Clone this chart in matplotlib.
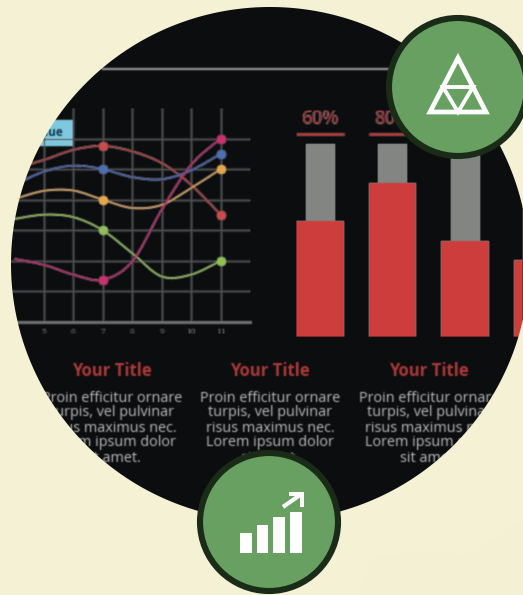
import numpy as np
import matplotlib
matplotlib.use('Agg')
import matplotlib.pyplot as plt
from matplotlib.patches import Circle, Ellipse, PathPatch, Polygon, Rectangle
from matplotlib.path import Path

W, H = 523, 595

# line chart
months = [4, 5, 6, 7, 8, 9, 10, 11]
red_line = [5.03, 5.30, 5.63, 5.76, 5.58, 5.20, 4.49, 3.51]
blue_line = [4.49, 4.92, 5.11, 5.00, 4.74, 4.67, 4.96, 5.50]
orange_line = [4.02, 4.29, 4.30, 4.00, 3.73, 3.83, 4.38, 5.00]
green_line = [3.37, 3.51, 3.43, 3.00, 2.25, 1.49, 1.55, 2.00]
pink_line = [2.06, 1.87, 1.55, 1.38, 1.98, 3.67, 5.14, 6.00]
tick_months = [5, 6, 7, 8, 9, 10, 11]
marked_months = [7, 11]

# bars
bar_pos = [0, 1, 2, 3]
bar_values = [60, 80, 50, 40]
track_values = [100, 100, 100, 100]
labelled_bars = 3

# text
titles = ['Your Title', 'Your Title', 'Your Title']
body = 'Proin efficitur ornare\nturpis, vel pulvinar\nrisus maximus nec.\nLorem ipsum dolor\nsit amet.'

# icon bars
icon_heights = [20, 28, 36, 41]

CREAM = '#f4f1d5'
DARK = '#0c0d0f'
GREEN = '#67a061'
EDGE = '#1a2b17'


def px_axes(x0, y0, x1, y1, z):
    ax = fig.add_axes([x0 / W, 1 - y1 / H, (x1 - x0) / W, (y1 - y0) / H], zorder=z)
    ax.patch.set_alpha(0)
    return ax


# лёгкое размытие, картинка в оригинале мыльная
def blur(img, dpi):
    pad = 2
    out = np.pad(img, ((pad, pad), (pad, pad), (0, 0)))
    k = np.array([1, 3, 1]) / 5
    out = np.apply_along_axis(lambda m: np.convolve(m, k, mode='same'), 0, out)
    out = np.apply_along_axis(lambda m: np.convolve(m, k, mode='same'), 1, out)
    return out, -pad, -pad


# гладкая кривая через точки, безье
def smooth_path(xs, ys):
    pts = np.column_stack([xs, ys])
    verts = [pts[0]]
    codes = [Path.MOVETO]
    for i in range(len(pts) - 1):
        before = pts[max(i - 1, 0)]
        after = pts[min(i + 2, len(pts) - 1)]
        verts += [pts[i] + (pts[i + 1] - before) / 6, pts[i + 1] - (after - pts[i]) / 6, pts[i + 1]]
        codes += [Path.CURVE4] * 3
    return Path(verts, codes)


fig = plt.figure(figsize=(W / 100, H / 100), dpi=100, facecolor=CREAM)
plt.rcParams['font.family'] = ['Open Sans', 'DejaVu Sans']

# dark disc
base = px_axes(0, 0, W, H, 0)
base.set_xlim(0, W)
base.set_ylim(H, 0)
base.axis('off')
cx, cy, rx, ry = 270, 264, 259, 257
base.add_patch(Ellipse((cx, cy), 2 * rx + 4, 2 * ry + 4, color=DARK))
base.plot([103, 400], [69, 69], color='#8f8f8f', lw=1.7)

# line chart
ax = px_axes(0, 108, 250, 322, 1)
ax.set_xlim(3.51, 12)
ax.set_ylim(0, 7)
ax.set_xticks(tick_months)
ax.set_yticks([1, 2, 3, 4, 5, 6])
ax.grid(color='#5c5c5c', lw=1.0)
ax.set_axisbelow(True)
ax.tick_params(length=0, labelleft=False, labelsize=6, labelcolor='#555555', pad=5)
for side in ['top', 'left', 'right']:
    ax.spines[side].set_visible(False)
ax.spines['bottom'].set_color('#707070')
ax.spines['bottom'].set_linewidth(2.2)

series = [
    (red_line, '#a84a48', '#c94c4c'),
    (blue_line, '#4e68aa', '#4e6fb5'),
    (orange_line, '#cc9c5e', '#e3a84e'),
    (green_line, '#8cb25c', '#8fbf5a'),
    (pink_line, '#b43670', '#c8326e'),
]
for vals, line_col, dot_col in series:
    ax.add_patch(PathPatch(smooth_path(months, vals), fc='none', ec=line_col, lw=1.5, clip_on=False))
    marks = [months.index(m) for m in marked_months]
    ax.plot(months, vals, ls='none', marker='o', ms=7, mfc=dot_col, mec='none', markevery=marks, zorder=4)

# Value label
base.add_patch(Rectangle((10, 120), 62, 25, color='#7ec8e0', zorder=5))
base.text(63, 133, 'Value', ha='right', va='center', fontsize=8.5, fontweight='bold', color='#123a4c', zorder=6)

# bars
bx = px_axes(283.75, 144, 523, 337, 1)
bx.set_xlim(-0.5, 2.8)
bx.set_ylim(0, 100)
bx.axis('off')
bx.bar(bar_pos, track_values, width=0.4, color='#838583')
bx.bar(bar_pos, bar_values, width=0.66, color='#cc3d3b')
for p, v in zip(bar_pos[:labelled_bars], bar_values):
    bx.text(p, 113, f'{v}%', ha='center', va='center', fontsize=13.5, fontweight='semibold', color='#a04040', clip_on=False)
    bx.plot([p - 0.33, p + 0.33], [105, 105], color='#a8403c', lw=2.2, clip_on=False, solid_capstyle='butt')

# text columns
for x_c, t in zip([112, 270, 429], titles):
    base.text(x_c, 371, t, ha='center', va='center', fontsize=12, fontweight='bold', color='#ac3a3a', zorder=5)
    base.text(x_c, 428, body, ha='center', va='center', fontsize=10.4, color='#bcbcbc', linespacing=1.0, zorder=5)

for a in [ax, bx, base]:
    a.set_agg_filter(blur)

# cream mask with a round hole, text clipping does not follow a clip path
over = px_axes(0, 0, W, H, 5)
over.set_xlim(0, W)
over.set_ylim(H, 0)
over.axis('off')
theta = np.linspace(0, 2 * np.pi, 720)
hole = np.column_stack([cx + rx * np.cos(theta), cy + ry * np.sin(theta)])
outer = np.array([[0, 0], [0, H], [W, H], [W, 0], [0, 0]])
over.add_patch(PathPatch(Path.make_compound_path(Path(outer), Path(hole)), fc=CREAM, ec='none'))
over.add_patch(Polygon([[360, 595], [372, 558], [420, 552], [470, 555], [523, 520], [523, 595]], fc='#f3f0d3', ec='none'))

# triangle icon
over.add_patch(Circle((458, 87), 69, fc=GREEN, ec=EDGE, lw=4.4))
over.add_patch(Polygon([[458, 58], [430, 112], [486, 112]], fc='none', ec='white', lw=3.4, joinstyle='miter'))
over.add_patch(Polygon([[443, 87], [473, 87], [458, 112]], fc='none', ec='white', lw=2.8, joinstyle='miter'))

# chart icon
over.add_patch(Circle((269, 522), 69, fc=GREEN, ec=EDGE, lw=4.4))
over.bar([246, 262.5, 279, 296], [-h for h in icon_heights], bottom=553, width=11.5, color='white')
over.plot([283, 300], [507, 495], color='white', lw=3, solid_capstyle='butt')
over.add_patch(Polygon([[289, 492], [304, 492], [304, 507], [300, 507], [300, 496], [289, 496]], fc='white', ec='none'))
over.set_xlim(0, W)
over.set_ylim(H, 0)

fig.savefig('out.png', dpi=100, facecolor=CREAM)
